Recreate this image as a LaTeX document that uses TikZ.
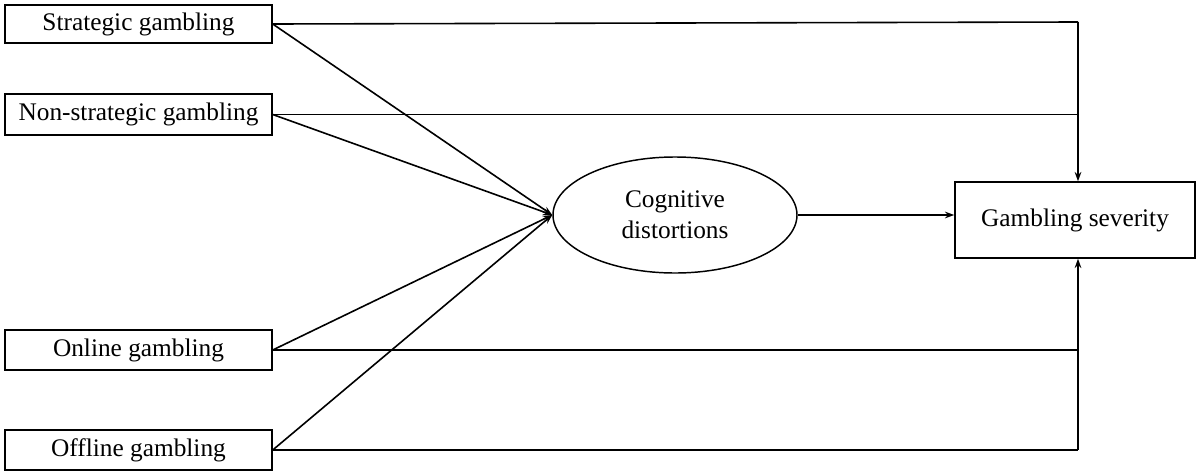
\documentclass[tikz,border=0pt]{standalone}
\usepackage{fontspec}
\setmainfont{Liberation Serif}
\usetikzlibrary{arrows.meta,shapes.geometric}
\begin{document}
\begin{tikzpicture}[x=0.75pt,y=-0.75pt,
  box/.style={draw,line width=1.1pt,inner sep=0pt,font=\fontsize{19}{23}\selectfont},
  ln/.style={line width=1.2pt},
  arr/.style={ln,-{Stealth[length=7pt,width=5pt]}}]
\useasboundingbox (0,0) rectangle (1200,475);
\node[box,minimum width=267*0.75pt,minimum height=38*0.75pt] (s) at (138.5,24) {Strategic gambling};
\node[box,minimum width=267*0.75pt,minimum height=41*0.75pt] (n) at (138.5,114.5) {Non-strategic gambling};
\node[box,minimum width=267*0.75pt,minimum height=40*0.75pt] (o) at (138.5,350) {Online gambling};
\node[box,minimum width=267*0.75pt,minimum height=40*0.75pt] (f) at (138.5,450) {Offline gambling};
\node[box,ellipse,minimum width=244*0.75pt,minimum height=116*0.75pt,align=center] (c) at (675,215) {Cognitive\\distortions};
\node[box,minimum width=240*0.75pt,minimum height=76*0.75pt] (g) at (1075,220) {Gambling severity};
\coordinate (t) at (1078,22);
\coordinate (b) at (1078,450);
\draw[ln] (s.east) -- (t);
\draw[arr] (t) -- (t |- g.north);
\draw[ln] (n.east) -- (n.east -| t);
\draw[ln] (f.east) -- (b);
\draw[arr] (b) -- (b |- g.south);
\draw[ln] (o.east) -- (o.east -| b);
\foreach \x in {s,n,o,f} \draw[arr] (\x.east) -- (c.west);
\draw[arr] (c.east) -- (g.west |- c.east);
\end{tikzpicture}
\end{document}
